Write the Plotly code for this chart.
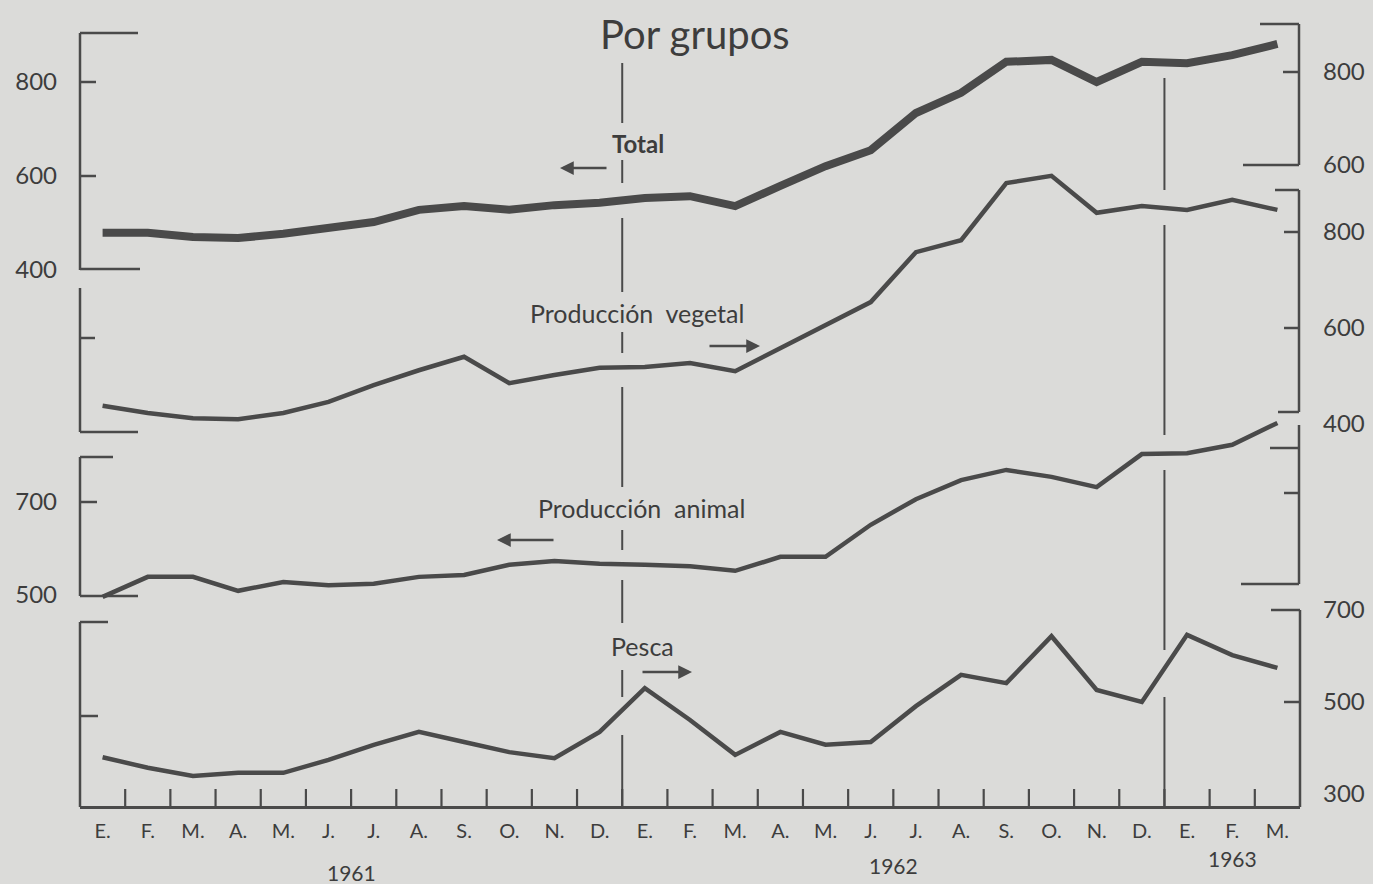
import plotly.graph_objects as go

W, H = 1373, 884

# ---------------- data ----------------
months = ["E.", "F.", "M.", "A.", "M.", "J.", "J.", "A.", "S.", "O.", "N.", "D.",
          "E.", "F.", "M.", "A.", "M.", "J.", "J.", "A.", "S.", "O.", "N.", "D.",
          "E.", "F.", "M."]
years = ["1961", "1962", "1963"]
year_pos = [5.5, 17.5, 25.0]

total = [479, 479, 470, 468, 477, 489, 502, 528, 536, 528, 538, 543, 553, 557,
         536, 579, 621, 655, 734, 777, 843, 847, 800, 843, 840, 857, 881]
vegetal = [438, 423, 412, 410, 423, 446, 481, 512, 540, 485, 502, 517, 519, 527,
           510, 558, 606, 654, 758, 783, 902, 917, 840, 854, 846, 867, 846]
animal = [496, 539, 539, 509, 528, 521, 524, 539, 543, 565, 573, 567, 565, 562,
          552, 582, 582, 651, 706, 747, 769, 754, 732, 803, 805, 823, 870]
pesca = [380, 357, 339, 346, 346, 374, 407, 435, 413, 391, 378, 435, 530, 461,
         385, 435, 407, 413, 491, 559, 541, 643, 526, 500, 646, 602, 574]

total_ticks = [400, 600, 800]
top_right_ticks = [600, 800]
vegetal_ticks = [400, 600, 800]
animal_ticks = [500, 700]
pesca_ticks = [300, 500, 700]

# ---------------- styling / layout helpers ----------------
BG = "#dbdbd9"
INK = "#4a4a4a"
TXT = "#3d3d3d"
FONT = "Lato"

X0, X1 = 80, 1300          # x-axis pixel extent
XAXIS_Y = 807               # x-axis line pixel row


def px(xp):
    return xp / W


def py(yp):
    return 1 - yp / H


# axis calibrations: two (value, pixel-row) pairs per panel scale
cal = {
    "y": (600, 176, 800, 82),     # Total (left)
    "y2": (600, 165, 800, 72),    # top right scale
    "y3": (600, 328, 800, 232),   # Producción vegetal (right)
    "y4": (500, 595, 700, 502),   # Producción animal (left)
    "y5": (500, 702, 700, 610),   # Pesca (right)
}


def yrange(c):
    vA, pA, vB, pB = c
    k = (pA - pB) / (vB - vA)
    return [vA - (H - pA) / k, vA + pA / k]


x = list(range(len(months)))

fig = go.Figure()
fig.add_trace(go.Scatter(x=x, y=total, yaxis="y", mode="lines",
                         line=dict(color=INK, width=8), hoverinfo="skip"))
fig.add_trace(go.Scatter(x=x, y=vegetal, yaxis="y3", mode="lines",
                         line=dict(color=INK, width=4.5), hoverinfo="skip"))
fig.add_trace(go.Scatter(x=x, y=animal, yaxis="y4", mode="lines",
                         line=dict(color=INK, width=4.5), hoverinfo="skip"))
fig.add_trace(go.Scatter(x=x, y=pesca, yaxis="y5", mode="lines",
                         line=dict(color=INK, width=4.5), hoverinfo="skip"))

common_y = dict(showgrid=False, zeroline=False, showline=False, ticks="",
                tickfont=dict(family=FONT, size=24, color=TXT),
                ticklabelstandoff=22, fixedrange=True, domain=[0, 1])

layout_axes = dict(
    yaxis=dict(range=yrange(cal["y"]), tickvals=total_ticks, side="left",
               anchor="x", **common_y),
    yaxis2=dict(range=yrange(cal["y2"]), tickvals=top_right_ticks, side="right",
                anchor="x", overlaying="y", **common_y),
    yaxis3=dict(range=yrange(cal["y3"]), tickvals=vegetal_ticks, side="right",
                anchor="x", overlaying="y", **common_y),
    yaxis4=dict(range=yrange(cal["y4"]), tickvals=animal_ticks, side="left",
                anchor="x", overlaying="y", **common_y),
    yaxis5=dict(range=yrange(cal["y5"]), tickvals=pesca_ticks, side="right",
                anchor="x", overlaying="y", **common_y),
)

fig.update_layout(
    width=W, height=H,
    margin=dict(l=0, r=0, t=0, b=0),
    paper_bgcolor=BG, plot_bgcolor="rgba(0,0,0,0)",
    showlegend=False,
    xaxis=dict(domain=[px(X0), px(X1)], range=[-0.5, len(months) - 0.5],
               tickvals=x, ticktext=months, ticks="",
               tickfont=dict(family=FONT, size=20, color=TXT),
               ticklabelstandoff=5,
               showline=True, linewidth=2.5, linecolor=INK,
               showgrid=False, zeroline=False, fixedrange=True,
               anchor="free", position=py(XAXIS_Y)),
    **layout_axes,
)

shapes = []


def seg(x0, y0, x1, y1, w=2.5, xref="paper", yref="paper", dash=None):
    d = dict(type="line", xref=xref, yref=yref, x0=x0, y0=y0, x1=x1, y1=y1,
             line=dict(color=INK, width=w))
    if dash:
        d["line"]["dash"] = dash
    shapes.append(d)


def hline_px(xa, xb, yp):
    seg(px(xa), py(yp), px(xb), py(yp))


def vline_px(xp, ya, yb):
    seg(px(xp), py(ya), px(xp), py(yb))


# ---- bracket axes (left) ----
vline_px(80, 33, 270); hline_px(80, 138, 33); hline_px(80, 140, 269)
vline_px(80, 288, 432); hline_px(80, 138, 432); hline_px(80, 95, 338)
vline_px(80, 457, 596); hline_px(80, 113, 457); hline_px(80, 138, 596)
vline_px(80, 622, 807); hline_px(80, 108, 622); hline_px(80, 98, 716)

# ---- bracket axes (right) ----
RX = 1299
vline_px(RX, 24, 165); hline_px(1260, RX, 24); hline_px(1243, RX, 165)
vline_px(RX, 190, 412); hline_px(1275, RX, 190); hline_px(1278, RX, 412)
vline_px(RX, 425, 584); hline_px(1241, RX, 584)
hline_px(1270, RX, 448); hline_px(1284, RX, 493)
vline_px(1300, 610, 807); hline_px(1271, 1300, 610)


# ---- labelled tick marks, positioned through each axis scale ----
def yticks(yref, vals, xa, xb):
    for v in vals:
        seg(px(xa), v, px(xb), v, yref=yref)


yticks("y", [600, 800], 80, 96)
yticks("y2", [800], 1283, RX)
yticks("y3", [600, 800], 1284, RX)
yticks("y4", [700], 80, 97)
yticks("y5", [500], 1284, 1300)

# ---- x-axis month boundary ticks (inside, upward) ----
for i in range(len(months) - 1):
    seg(i + 0.5, py(XAXIS_Y), i + 0.5, py(XAXIS_Y - 18), w=2.2, xref="x")

# ---- vertical reference lines: end of 1961 (broken) and end of 1962 ----
for a, b in [(63, 123), (160, 183), (218, 292), (332, 353), (387, 487),
             (530, 550), (580, 623), (670, 697), (735, 807)]:
    seg(11.5, py(a), 11.5, py(b), w=2, xref="x")
for a, b in [(78, 190), (225, 435), (470, 650), (697, 807)]:
    seg(23.5, py(a), 23.5, py(b), w=2, xref="x")

fig.update_layout(shapes=shapes)

# ---------------- text ----------------
ann = []


def text(t, xp, yp, size, bold=False):
    ann.append(dict(text=("<b>%s</b>" % t) if bold else t, xref="paper",
                    yref="paper", x=px(xp), y=py(yp), showarrow=False,
                    xanchor="center", yanchor="middle",
                    font=dict(family=FONT, size=size, color=TXT)))


def arrow(x_tail, x_head, yp):
    ann.append(dict(text="", xref="paper", yref="paper", x=px(x_head),
                    y=py(yp), ax=x_tail - x_head, ay=0, showarrow=True,
                    arrowhead=2, arrowsize=1.1, arrowwidth=2.5,
                    arrowcolor=INK))


text("Por grupos", 695, 34, 40)
text("Total", 638, 144, 24, bold=True)
text("Producción\u00a0\u00a0vegetal", 637, 313, 25)
text("Producción\u00a0\u00a0animal", 641, 508, 25)
text("Pesca", 642, 646, 25)

arrow(608, 560, 168)
arrow(708, 760, 346)
arrow(555, 497, 540)
arrow(641, 692, 672)

for yr, xp_, yp_ in zip(years, year_pos, [872, 865, 858]):
    ann.append(dict(text=yr, xref="x", yref="paper", x=xp_, y=py(yp_),
                    showarrow=False, xanchor="center", yanchor="middle",
                    font=dict(family=FONT, size=21, color=TXT)))

fig.update_layout(annotations=ann)

fig.write_html("out.html",
               config={"displayModeBar": False},
               post_script="document.body.style.margin='0';"
                           "document.body.style.overflow='hidden';")
